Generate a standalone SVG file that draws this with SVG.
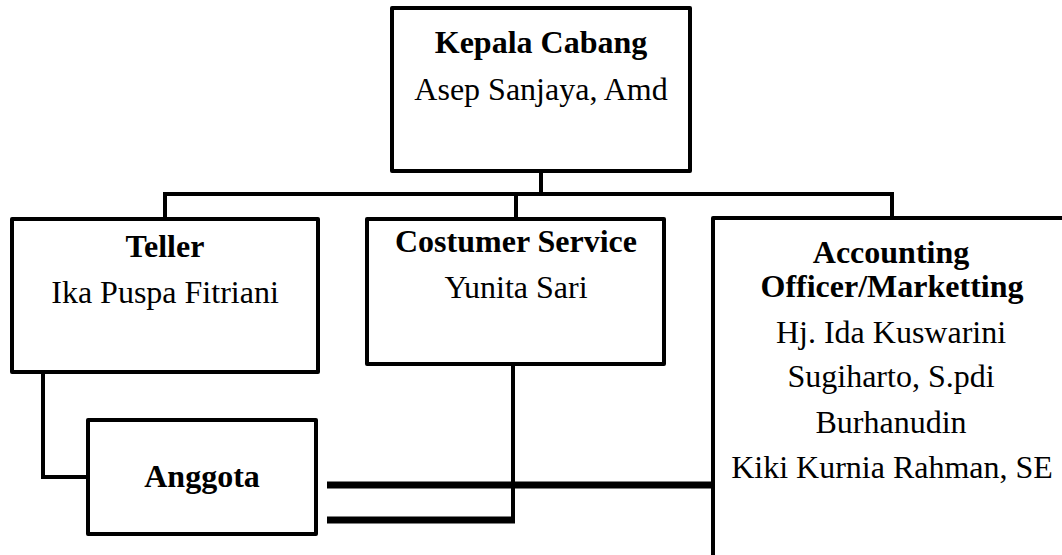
<svg xmlns="http://www.w3.org/2000/svg" width="1062" height="555" viewBox="0 0 1062 555">
<style>
.box{fill:#fff;stroke:#000;stroke-width:4;stroke-linejoin:round}
.ln{fill:none;stroke:#000;stroke-width:4;stroke-linejoin:miter}
.thick{fill:none;stroke:#000;stroke-width:7}
text{font-family:"Liberation Serif","Times New Roman",serif;font-size:32px;fill:#000;text-anchor:middle}
.b{font-weight:bold}
</style>
<rect width="1062" height="555" fill="#fff"/>
<g id="connectors">
<path class="ln" d="M541 171V194M165 219V194H892V218M516 194V219"/>
<path class="ln" d="M43 372V477H88"/>
<path class="ln" d="M513 364V520"/>
<path class="thick" d="M327 520H515"/>
<path class="thick" d="M327 485H721"/>
</g>
<g id="kepala">
<rect class="box" x="392" y="8" width="298" height="163"/>
<text class="b" x="541" y="53">Kepala Cabang</text>
<text x="541" y="100">Asep Sanjaya, Amd</text>
</g>
<g id="teller">
<rect class="box" x="12" y="219" width="306" height="153"/>
<text class="b" x="165" y="257">Teller</text>
<text x="165" y="303">Ika Puspa Fitriani</text>
</g>
<g id="cs">
<rect class="box" x="367" y="219" width="297" height="145"/>
<text class="b" x="516" y="252">Costumer Service</text>
<text x="516" y="298">Yunita Sari</text>
</g>
<g id="accounting">
<rect class="box" x="713" y="218" width="420" height="400"/>
<text class="b" x="891" y="263">Accounting</text>
<text class="b" x="892" y="297">Officer/Marketting</text>
<text x="891" y="343">Hj. Ida Kuswarini</text>
<text x="891" y="387">Sugiharto, S.pdi</text>
<text x="891" y="433">Burhanudin</text>
<text x="892" y="478">Kiki Kurnia Rahman, SE</text>
</g>
<g id="anggota">
<rect class="box" x="88" y="420" width="228" height="114"/>
<text class="b" x="202" y="487">Anggota</text>
</g>
</svg>
